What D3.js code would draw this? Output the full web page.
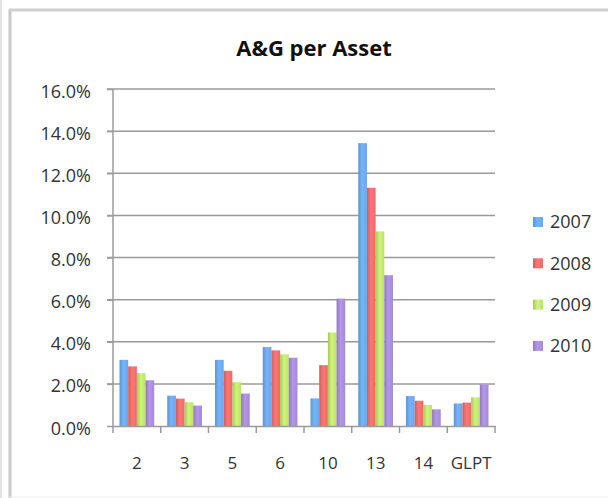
<!DOCTYPE html>
<html>
<head>
<meta charset="utf-8">
<script src="https://cdn.jsdelivr.net/npm/d3@7"></script>
<style>
  body { margin: 0; background: #fff; }
  text { font-family: "Open Sans", sans-serif; fill: #333; }
</style>
</head>
<body>
<div id="chart"></div>
<script>
// Data
var categories = ["2", "3", "5", "6", "10", "13", "14", "GLPT"];
var years = ["2007", "2008", "2009", "2010"];
var v2007 = [3.14, 1.44, 3.14, 3.75, 1.31, 13.43, 1.42, 1.07];
var v2008 = [2.83, 1.30, 2.62, 3.59, 2.89, 11.31, 1.20, 1.11];
var v2009 = [2.51, 1.13, 2.08, 3.40, 4.44, 9.24, 1.00, 1.36];
var v2010 = [2.17, 0.97, 1.54, 3.24, 6.05, 7.16, 0.79, 1.97];
var yTicks = [0, 2, 4, 6, 8, 10, 12, 14, 16];
var colors = ["#6aa6ec", "#ea6b6a", "#bde06c", "#a58ad4"];

var seriesValues = [v2007, v2008, v2009, v2010];

var W = 608, H = 498;
var margin = {top: 89, right: 113, bottom: 72, left: 113},
    width = W - margin.left - margin.right,
    height = H - margin.top - margin.bottom;

var svg = d3.select("#chart").append("svg")
    .attr("width", W)
    .attr("height", H);

// frame around the chart
svg.append("line").attr("x1", 1).attr("x2", 1).attr("y1", 0).attr("y2", H)
    .attr("stroke", "#d8d8d8").attr("stroke-width", 1.5);
svg.append("line").attr("x1", 10).attr("x2", 10).attr("y1", 9).attr("y2", H)
    .attr("stroke", "#c8c8c8").attr("stroke-width", 3);
svg.append("line").attr("x1", 9).attr("x2", W).attr("y1", 10).attr("y2", 10)
    .attr("stroke", "#cfcfcf").attr("stroke-width", 3);
svg.append("line").attr("x1", 9).attr("x2", W).attr("y1", 497).attr("y2", 497)
    .attr("stroke", "#eeeeee").attr("stroke-width", 1);

// bar gradients
var defs = svg.append("defs");
colors.forEach(function(c, i) {
    var g = defs.append("linearGradient")
        .attr("id", "grad" + i)
        .attr("x1", "0%").attr("x2", "100%").attr("y1", "0%").attr("y2", "0%");
    g.append("stop").attr("offset", "0%").attr("stop-color", d3.color(c).darker(0.35));
    g.append("stop").attr("offset", "45%").attr("stop-color", d3.color(c).brighter(0.25));
    g.append("stop").attr("offset", "100%").attr("stop-color", c);
});

svg.append("text")
    .attr("x", 314)
    .attr("y", 56)
    .attr("text-anchor", "middle")
    .style("font-size", "22px")
    .style("font-weight", "bold")
    .style("fill", "#111")
    .text("A&G per Asset");

var g = svg.append("g")
    .attr("transform", "translate(" + margin.left + "," + margin.top + ")");

var x0 = d3.scaleBand()
    .domain(categories)
    .range([0, width])
    .paddingInner(0)
    .paddingOuter(0);

var x1 = d3.scaleBand()
    .domain(years)
    .range([0, x0.bandwidth()])
    .paddingInner(0)
    .paddingOuter(0.75);

var y = d3.scaleLinear()
    .domain([0, 16])
    .range([height, 0]);

// gridlines
g.append("g")
    .selectAll("line")
    .data(yTicks.slice(1))
    .enter().append("line")
    .attr("x1", -6)
    .attr("x2", width)
    .attr("y1", function(d) { return y(d); })
    .attr("y2", function(d) { return y(d); })
    .attr("stroke", "#9a9a9a")
    .attr("stroke-width", 1.5);

// y axis
var yAxis = g.append("g")
    .call(d3.axisLeft(y).tickValues(yTicks).tickSize(6).tickPadding(16)
        .tickFormat(function(d) { return d.toFixed(1) + "%"; }));
yAxis.selectAll("text").style("font-size", "18px").attr("dy", "0.45em").style("fill", "#333");
yAxis.selectAll("line").attr("stroke", "#9a9a9a").attr("stroke-width", 1.5);
yAxis.select(".domain").attr("stroke", "#9a9a9a").attr("stroke-width", 1.5).attr("d", "M0," + height + "V0");

// bars
var rows = categories.map(function(c, i) {
    return years.map(function(yr, j) { return {cat: c, year: yr, idx: j, value: seriesValues[j][i]}; });
});

g.append("g")
    .selectAll("g")
    .data(rows)
    .enter().append("g")
    .attr("transform", function(d) { return "translate(" + x0(d[0].cat) + ",0)"; })
    .selectAll("rect")
    .data(function(d) { return d; })
    .enter().append("rect")
    .attr("x", function(d) { return x1(d.year); })
    .attr("width", x1.bandwidth())
    .attr("y", function(d) { return y(d.value); })
    .attr("height", function(d) { return height - y(d.value); })
    .attr("fill", function(d) { return "url(#grad" + d.idx + ")"; });

// x axis
var xAxis = g.append("g")
    .attr("transform", "translate(0," + height + ")")
    .call(d3.axisBottom(x0).tickSize(0).tickPadding(31));
xAxis.selectAll("text").style("font-size", "17px").style("fill", "#333");
xAxis.select(".domain").attr("stroke", "#9a9a9a").attr("stroke-width", 1.5);
// category boundary ticks
var bounds = categories.map(function(c) { return x0(c); }).concat([width]);
xAxis.selectAll(".bound")
    .data(bounds)
    .enter().append("line")
    .attr("class", "bound")
    .attr("x1", function(d) { return d; })
    .attr("x2", function(d) { return d; })
    .attr("y1", 0)
    .attr("y2", 7)
    .attr("stroke", "#9a9a9a")
    .attr("stroke-width", 1.5);

// legend
var legend = svg.append("g")
    .selectAll("g")
    .data(years)
    .enter().append("g")
    .attr("transform", function(d, i) { return "translate(533," + (222 + i * 41.3) + ")"; });
legend.append("rect")
    .attr("x", 0).attr("y", -5)
    .attr("width", 10).attr("height", 10)
    .attr("fill", function(d, i) { return "url(#grad" + i + ")"; });
legend.append("text")
    .attr("x", 17)
    .attr("dy", "0.36em")
    .style("font-size", "18px")
    .text(function(d) { return d; });
</script>
</body>
</html>
